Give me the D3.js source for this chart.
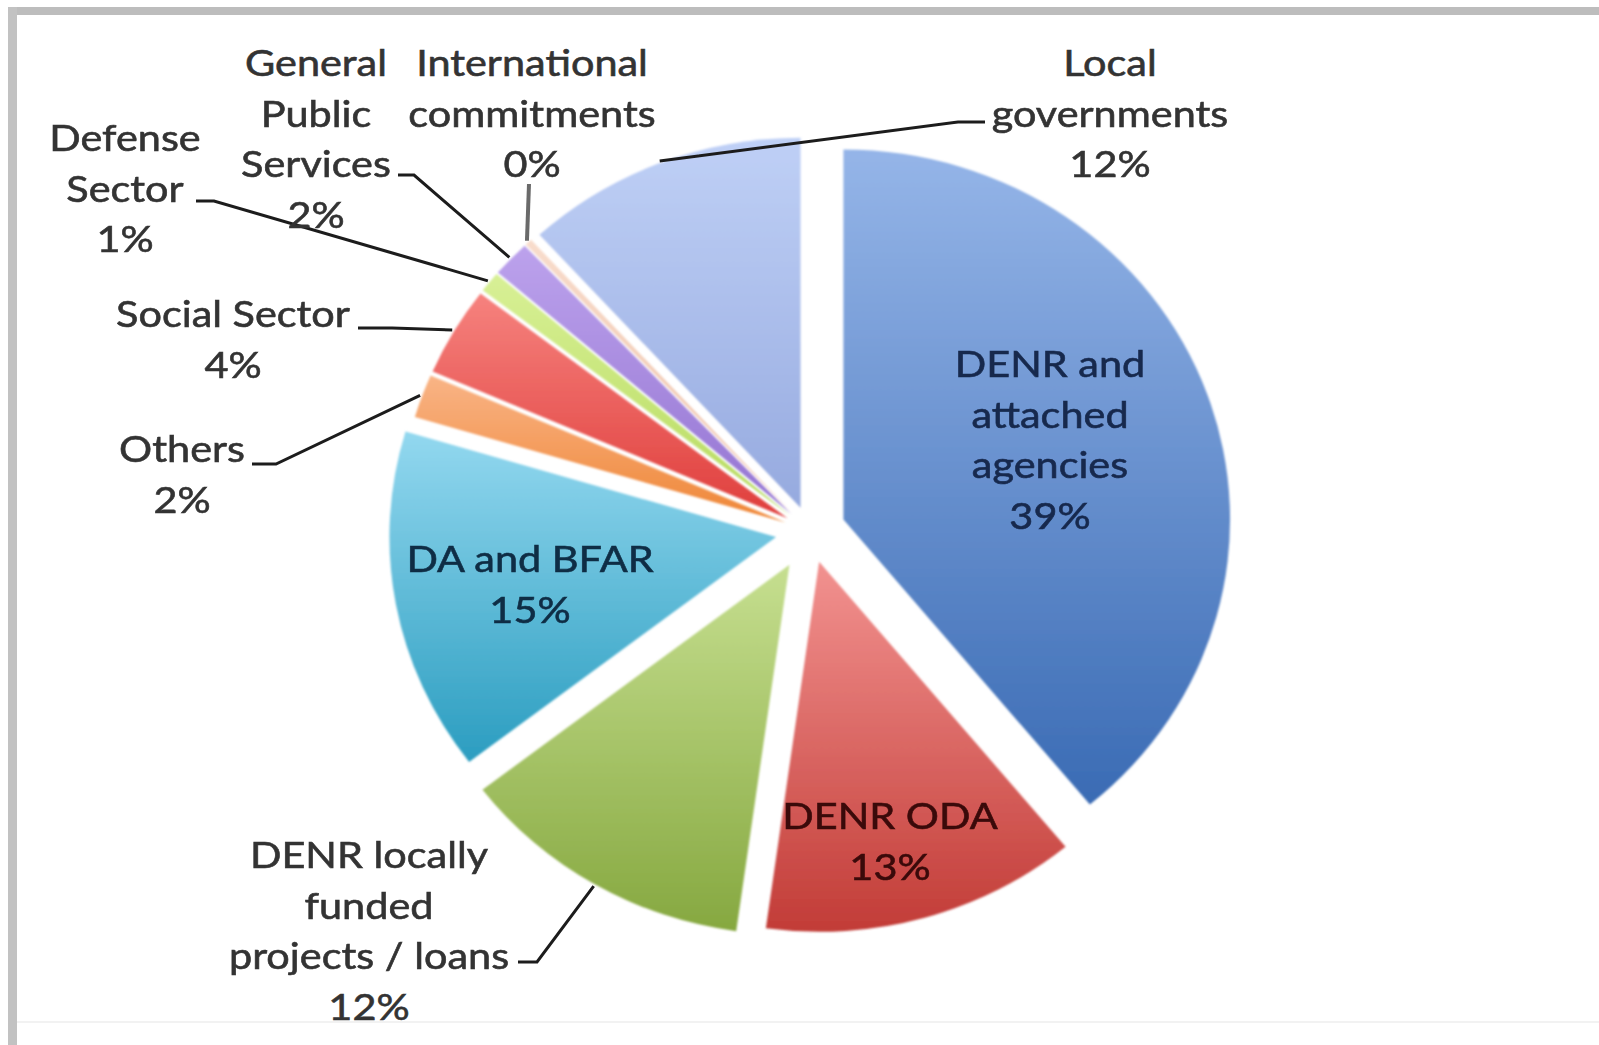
<!DOCTYPE html>
<html><head><meta charset="utf-8">
<script src="https://cdn.jsdelivr.net/npm/d3@7"></script>
<style>body{margin:0;background:#fff;} svg{display:block;}</style>
</head><body>
<svg id="chart" width="1599" height="1045"></svg>
<script>
// ---- data ----
const categories = ["DENR and attached agencies","DENR ODA","DENR locally funded projects / loans","DA and BFAR","Others","Social Sector","Defense Sector","General Public Services","International commitments","Local governments"];
const values = [39.0, 13.2, 12.4, 15.0, 1.9, 3.9, 0.9, 1.6, 0.3, 11.8];
const labelLines = [["DENR and","attached","agencies"],["DENR ODA"],["DENR locally","funded","projects / loans"],["DA and BFAR"],["Others"],["Social Sector"],["Defense","Sector"],["General","Public","Services"],["International","commitments"],["Local","governments"]];

// ---- styles ----
const colorTop    = ["#95b5e8","#f29290","#c6df90","#93d8ef","#f9b486","#f6827e","#d8f096","#bca2ec","#f8dccc","#bfd0f6"];
const colorBottom = ["#3a6bb4","#c23c37","#86a840","#2b9dc0","#ef8636","#df3e3c","#b6da5e","#9474d2","#eec0a6","#96aadf"];
const textColor   = ["#17294d","#3a0a0a","#333333","#0f2d45","#333333","#333333","#333333","#333333","#333333","#333333"];

// ---- layout ----
const W = 1599, H = 1045;
const cx = 810, cy = 531, R = 370, sx = 1.045;
const explode = [34, 32, 39, 33, 25, 25, 25, 25, 25, 25];
const labelPos = [[1050,377],[890,829],[369,868],[530,572],[182,462],[233,327],[125,151],[316,76],[532,76],[1110,76]];
const leaderPts = [null,null,[[518,962],[537,962]],null,[[252,464],[276,464]],[[358,328],[392,328]],[[196,201],[214,201]],[[398,175],[414,175]],[[529,184]],[[985,122],[958,122]]];
const lineH = 50.5, fontSize = 37, textSx = 1.12;

const svg = d3.select("#chart");
const defs = svg.append("defs");

// frame
svg.append("rect").attr("x",8).attr("y",7).attr("width",W).attr("height",8).attr("fill","#bdbdbd");
svg.append("rect").attr("x",8).attr("y",7).attr("width",9).attr("height",H).attr("fill","#c2c2c2");
svg.append("rect").attr("x",17).attr("y",1021).attr("width",W).attr("height",2).attr("fill","#f2f2f2");

const soft = defs.append("filter").attr("id","soft").attr("x","-5%").attr("y","-5%").attr("width","110%").attr("height","110%");
soft.append("feGaussianBlur").attr("stdDeviation",1.2);

const total = d3.sum(values);
const pie = d3.pie().sort(null).value(d => d)(values);
const arc = d3.arc().innerRadius(0).outerRadius(R);

function sliceCenter(i){
  const p = pie[i], m = (p.startAngle + p.endAngle)/2;
  return [cx + sx*explode[i]*Math.sin(m), cy - explode[i]*Math.cos(m)];
}

values.forEach((v,i) => {
  const g = defs.append("linearGradient").attr("id","grad"+i).attr("x1",0).attr("y1",0).attr("x2",0).attr("y2",1);
  g.append("stop").attr("offset","0%").attr("stop-color",colorTop[i]);
  g.append("stop").attr("offset","100%").attr("stop-color",colorBottom[i]);
});

const slices = svg.append("g").attr("filter","url(#soft)");
pie.forEach((p,i) => {
  const [x,y] = sliceCenter(i);
  slices.append("g").attr("transform",`translate(${x},${y}) scale(${sx},1)`)
    .append("path").attr("d", arc(p)).attr("fill",`url(#grad${i})`);
});

// leader lines
const line = d3.line();
pie.forEach((p,i) => {
  if (!leaderPts[i]) return;
  const [x,y] = sliceCenter(i);
  const m = (p.startAngle + p.endAngle)/2;
  const end = [x + sx*(R+2)*Math.sin(m), y - (R+2)*Math.cos(m)];
  const pts = leaderPts[i].concat([end]);
  svg.append("path").attr("d", line(pts)).attr("fill","none")
    .attr("stroke", i===8 ? "#6a6a6a" : "#1c1c1c").attr("stroke-width", i===8 ? 4 : 3);
});

// labels
const fmt = v => Math.round(v/total*100) + "%";
pie.forEach((p,i) => {
  const lines = labelLines[i].concat([fmt(values[i])]);
  const [lx, ly] = labelPos[i];
  const t = svg.append("g");
  lines.forEach((s,k) => {
    t.append("text").attr("transform",`translate(${lx},${ly + k*lineH}) scale(${textSx},1)`)
      .attr("text-anchor","middle").attr("font-family","Lato, 'Open Sans', sans-serif")
      .attr("font-size",fontSize).attr("fill",textColor[i])
      .attr("stroke",textColor[i]).attr("stroke-width",0.6).text(s);
  });
});
</script>
</body></html>
